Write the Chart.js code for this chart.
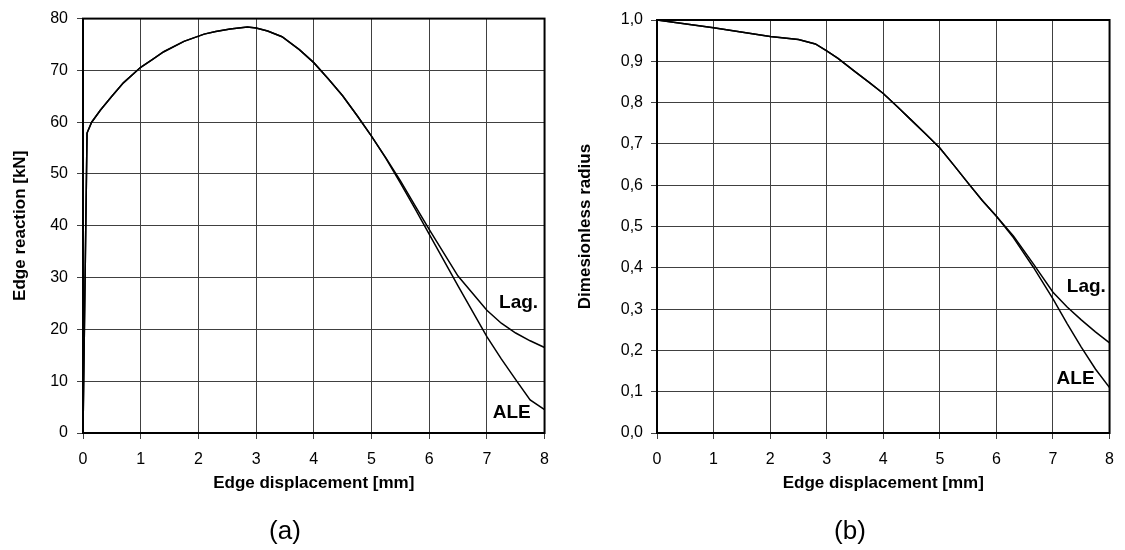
<!DOCTYPE html>
<html>
<head>
<meta charset="utf-8">
<script src="https://cdn.jsdelivr.net/npm/chart.js@4.4.0/dist/chart.umd.min.js"></script>
<style>
  html, body { margin: 0; padding: 0; background: #fff; }
  #page { position: relative; width: 1125px; height: 550px; overflow: hidden;
          font-family: "Liberation Sans", Arial, sans-serif; }
  canvas { position: absolute; top: 0; }
  .tag { position: absolute; font-size: 26px; transform: translate(-50%, -50%); }
</style>
</head>
<body>
<div id="page">
  <canvas id="chartA" style="left:0px;width:560px;height:550px" width="560" height="550"></canvas>
  <canvas id="chartB" style="left:565px;width:560px;height:550px" width="560" height="550"></canvas>
  <div class="tag" style="left:285px;top:530px">(a)</div>
  <div class="tag" style="left:850px;top:530px">(b)</div>
</div>
<script>
// (a) edge reaction vs edge displacement
const dispA     = [0, 0.07, 0.15, 0.3, 0.5, 0.7, 1.0, 1.2, 1.4, 1.75, 2.1, 2.3, 2.55, 2.85, 3.0, 3.2, 3.45, 3.75, 4.0, 4.25, 4.5, 4.75, 5.0, 5.25, 5.5, 5.75, 6.0, 6.5, 7.0, 7.25, 7.5, 7.75, 8.0];
const reactLag  = [0, 57.9, 60.0, 62.3, 65.0, 67.6, 70.6, 72.1, 73.6, 75.6, 77.0, 77.5, 78.0, 78.4, 78.2, 77.6, 76.5, 74.0, 71.5, 68.4, 65.1, 61.3, 57.3, 53.1, 48.7, 44.0, 39.3, 30.3, 23.7, 21.2, 19.3, 17.8, 16.5];
const reactALE  = [0, 57.9, 60.0, 62.3, 65.0, 67.6, 70.6, 72.1, 73.6, 75.6, 77.0, 77.5, 78.0, 78.4, 78.2, 77.6, 76.5, 74.0, 71.5, 68.4, 65.1, 61.3, 57.3, 53.0, 48.3, 43.4, 38.4, 28.4, 18.6, 14.3, 10.3, 6.4, 4.5];

// (b) dimensionless radius vs edge displacement
const dispB     = [0, 1, 2, 2.5, 2.8, 3.0, 3.2, 3.5, 3.75, 4.0, 4.25, 4.5, 4.75, 5.0, 5.25, 5.5, 5.75, 6.0, 6.3, 6.65, 7.0, 7.25, 7.5, 7.75, 8.0];
const radiusLag = [1.0, 0.981, 0.96, 0.953, 0.942, 0.925, 0.907, 0.875, 0.849, 0.822, 0.79, 0.757, 0.724, 0.69, 0.648, 0.605, 0.563, 0.525, 0.477, 0.41, 0.341, 0.305, 0.274, 0.245, 0.218];
const radiusALE = [1.0, 0.981, 0.96, 0.953, 0.942, 0.925, 0.907, 0.875, 0.849, 0.822, 0.79, 0.757, 0.724, 0.69, 0.648, 0.605, 0.563, 0.525, 0.473, 0.402, 0.325, 0.265, 0.208, 0.155, 0.11];

// curve labels: [text, x, y] in data units
const labelsA = [['Lag.', 7.55, 25.1], ['ALE', 7.43, 3.9]];
const labelsB = [['Lag.', 7.59, 0.353], ['ALE', 7.40, 0.132]];

Chart.defaults.font.family = '"Liberation Sans", Arial, sans-serif';
Chart.defaults.color = '#000';

const toXY = (xs, ys) => xs.map((x, i) => ({x: x, y: ys[i]}));

const framePlugin = {
  id: 'frame',
  afterDraw(chart, args, opts) {
    const {ctx, chartArea: a, scales} = chart;
    ctx.save();
    ctx.strokeStyle = '#000';
    ctx.lineWidth = 2;
    ctx.strokeRect(a.left, a.top, a.right - a.left, a.bottom - a.top);
    ctx.font = 'bold 19px "Liberation Sans", Arial, sans-serif';
    ctx.fillStyle = '#000';
    ctx.textAlign = 'center';
    ctx.textBaseline = 'middle';
    (opts.labels || []).forEach(l => {
      ctx.fillText(l[0], scales.x.getPixelForValue(l[1]), scales.y.getPixelForValue(l[2]));
    });
    ctx.restore();
  }
};

function makeConfig(xs, lag, ale, yOpts, yTitle, yWidth, padTop, padRight, labels) {
  const line = {borderColor: '#000', borderWidth: 1.5, pointRadius: 0, fill: false, tension: 0};
  return {
    type: 'line',
    data: {
      datasets: [
        Object.assign({label: 'Lag.', data: toXY(xs, lag)}, line),
        Object.assign({label: 'ALE', data: toXY(xs, ale)}, line)
      ]
    },
    options: {
      responsive: false,
      animation: false,
      devicePixelRatio: 1,
      layout: {padding: {top: padTop, right: padRight, bottom: 0, left: 0}},
      plugins: {
        legend: {display: false},
        tooltip: {enabled: false},
        frame: {labels: labels}
      },
      scales: {
        x: {
          type: 'linear', min: 0, max: 8,
          ticks: {stepSize: 1, padding: 11, font: {size: 16}},
          grid: {color: '#404040', lineWidth: 1, tickLength: 6},
          border: {color: '#000', width: 2},
          title: {display: true, text: 'Edge displacement [mm]',
                  font: {size: 17, weight: 'bold'}, padding: {top: 0, bottom: 56}},
          afterFit: s => { s.height = 117; }
        },
        y: {
          type: 'linear', min: yOpts.min, max: yOpts.max,
          ticks: {stepSize: yOpts.step, padding: yOpts.pad, font: {size: 16}, callback: yOpts.fmt},
          grid: {color: '#404040', lineWidth: 1, tickLength: 6},
          border: {color: '#000', width: 2},
          title: {display: true, text: yTitle,
                  font: {size: 17, weight: 'bold'}, padding: {top: 10, bottom: 0}},
          afterFit: s => { s.width = yWidth; }
        }
      }
    },
    plugins: [framePlugin]
  };
}

new Chart(document.getElementById('chartA'),
  makeConfig(dispA, reactLag, reactALE,
    {min: 0, max: 80, step: 10, pad: 9, fmt: v => String(v)},
    'Edge reaction [kN]', 83, 17, 11, labelsA));

new Chart(document.getElementById('chartB'),
  makeConfig(dispB, radiusLag, radiusALE,
    {min: 0, max: 1, step: 0.1, pad: 8, fmt: v => v.toFixed(1).replace('.', ',')},
    'Dimesionless radius', 92, 20, 12, labelsB));
</script>
</body>
</html>
